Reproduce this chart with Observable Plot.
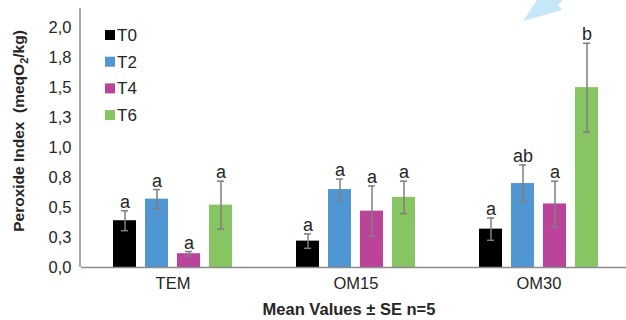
<!DOCTYPE html>
<html><head><meta charset="utf-8">
<script src="https://cdn.jsdelivr.net/npm/d3@7"></script>
<script src="https://cdn.jsdelivr.net/npm/@observablehq/plot@0.6"></script>
<style>
html,body{margin:0;padding:0;background:#fff;}
#chart{position:relative;width:626px;height:320px;overflow:hidden;}
</style></head><body><div id="chart"></div>
<script>
const groups = ["TEM", "OM15", "OM30"];
const series = ["T0", "T2", "T4", "T6"];
const colors = ["#000000", "#4f96d2", "#bb4399", "#86c562"];
const meanT0 = [0.39, 0.22, 0.32];
const meanT2 = [0.57, 0.65, 0.70];
const meanT4 = [0.115, 0.47, 0.53];
const meanT6 = [0.52, 0.585, 1.50];
const seT0 = [0.083, 0.06, 0.093];
const seT2 = [0.08, 0.087, 0.155];
const seT4 = [0.018, 0.21, 0.19];
const seT6 = [0.20, 0.135, 0.37];
const letterT0 = ["a", "a", "a"];
const letterT2 = ["a", "a", "ab"];
const letterT4 = ["a", "a", "a"];
const letterT6 = ["a", "a", "b"];
const yTicks = [0, 0.25, 0.5, 0.75, 1.0, 1.25, 1.5, 1.75, 2.0];
const yTickLabels = ["0,0", "0,3", "0,5", "0,8", "1,0", "1,3", "1,5", "1,8", "2,0"];
const yMax = 2.16;
const yTitle = ["Peroxide Index  (meqO", "2", "/kg)"];
const xTitle = "Mean Values \u00b1 SE n=5";

const means = [meanT0, meanT2, meanT4, meanT6];
const ses = [seT0, seT2, seT4, seT6];
const letters = [letterT0, letterT2, letterT4, letterT6];
const data = [];
groups.forEach((g, gi) => series.forEach((s, si) => {
  const m = means[si][gi], e = ses[si][gi];
  data.push({group: g, series: s, mean: m, lo: m - e, hi: m + e, letter: letters[si][gi]});
}));

const errStroke = "#7f7f7f";
const txt = "#262626";
const plot = Plot.plot({
  width: 626, height: 320,
  marginLeft: 80, marginRight: -4, marginTop: 8, marginBottom: 53,
  style: {fontFamily: "'Liberation Sans', Arial, sans-serif", fontSize: "16px", color: txt, background: "#fff"},
  fx: {domain: groups, padding: 0, axis: null},
  x: {domain: series, paddingInner: 0.29, paddingOuter: 0.92, axis: null},
  y: {domain: [0, yMax], axis: null},
  color: {domain: series, range: colors},
  marks: [
    Plot.axisY({ticks: yTicks, tickFormat: d => yTickLabels[yTicks.indexOf(d)], tickSize: 0, tickPadding: 10, label: null, fontSize: 16.5, fill: txt}),
    Plot.axisFx({anchor: "bottom", tickSize: 0, tickPadding: 10, label: null, fontSize: 16.5, fill: txt}),
    Plot.barY(data, {fx: "group", x: "series", y: "mean", fill: "series"}),
    Plot.ruleX(data, {fx: "group", x: "series", y1: "lo", y2: "hi", stroke: errStroke, strokeWidth: 1.5}),
    Plot.tickY(data, {fx: "group", x: "series", y: "lo", stroke: errStroke, strokeWidth: 1.5, insetLeft: 8, insetRight: 8}),
    Plot.tickY(data, {fx: "group", x: "series", y: "hi", stroke: errStroke, strokeWidth: 1.5, insetLeft: 8, insetRight: 8}),
    Plot.text(data, {fx: "group", x: "series", y: "hi", text: "letter", lineAnchor: "bottom", dy: -3, fontSize: 18, fill: txt}),
    Plot.ruleY([0], {stroke: "#8c8c8c", strokeWidth: 1.5})
  ]
});
document.getElementById("chart").appendChild(plot);
const svg = d3.select(plot);
const ys = plot.scale("y");
const fxr = plot.scale("fx").range;
// y axis line
svg.append("line").attr("x1", fxr[0]).attr("x2", fxr[0])
  .attr("y1", ys.apply(yMax)).attr("y2", ys.apply(0))
  .attr("stroke", "#8c8c8c").attr("stroke-width", 1.5);
// decorative light-blue shape at top
svg.append("polygon").attr("points", "523,21 537,0 563,0 558,5 562,10").attr("fill", "#c7e7f8");
// legend
const leg = svg.append("g").attr("font-size", 17).attr("fill", txt).attr("text-anchor", "start");
series.forEach((s, i) => {
  const cy = 35 + i * 26.7;
  leg.append("rect").attr("x", 105).attr("y", cy - 5).attr("width", 10).attr("height", 10).attr("fill", colors[i]);
  leg.append("text").attr("x", 117).attr("y", cy + 6).text(s);
});
// x title
svg.append("text").attr("x", 349).attr("y", 315).attr("text-anchor", "middle")
  .attr("font-weight", "bold").attr("font-size", 16.5).attr("fill", txt).text(xTitle);
// y title
const yt = svg.append("text").attr("transform", "translate(24,131) rotate(-90)")
  .attr("text-anchor", "middle").attr("font-weight", "bold").attr("font-size", 15.5)
  .attr("fill", txt).style("white-space", "pre");
yt.append("tspan").text(yTitle[0]);
yt.append("tspan").attr("dy", 4).attr("font-size", 11).text(yTitle[1]);
yt.append("tspan").attr("dy", -4).text(yTitle[2]);
</script>
</body></html>
